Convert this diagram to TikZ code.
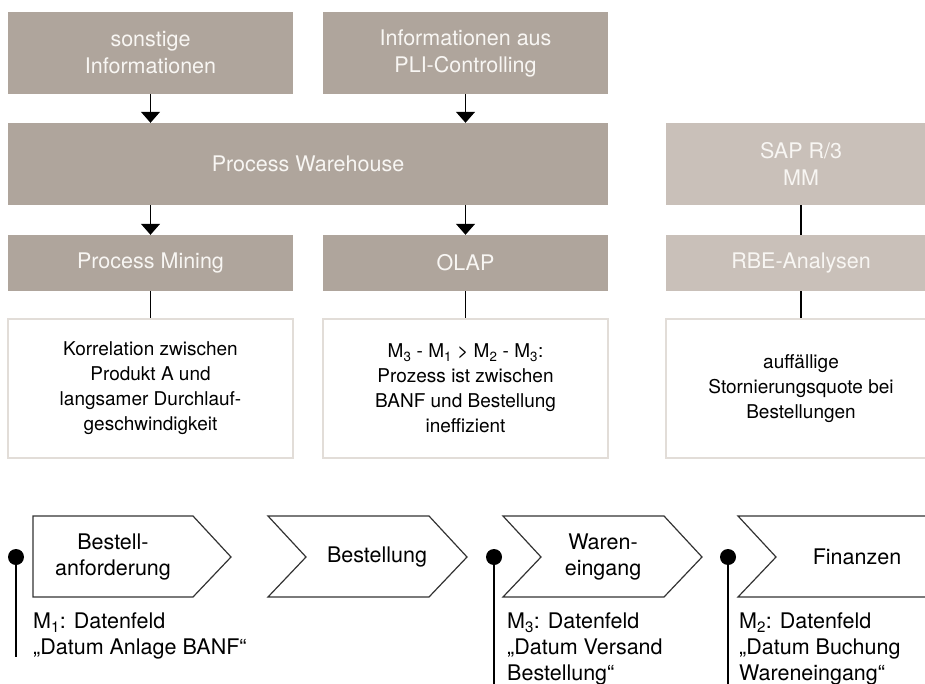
\documentclass[tikz,border=0pt]{standalone}
\usepackage{fontspec}
\setmainfont{TeX Gyre Heros}
\usetikzlibrary{positioning, arrows.meta}
\definecolor{boxtaupe}{HTML}{AFA59C}
\definecolor{lighttaupe}{HTML}{C9C0B9}
\definecolor{framegray}{HTML}{E2DDD8}
\definecolor{boxtext}{HTML}{F8F6F3}
\definecolor{edgegray}{HTML}{333333}

\begin{document}
\begin{tikzpicture}[x=1pt, y=-1pt,
  srcbox/.style={fill=boxtaupe, text=boxtext, minimum width=285pt, minimum height=82pt,
    align=center, inner sep=0pt, font=\fontsize{21.5}{27}\selectfont},
  toolbox/.style={srcbox, minimum height=56pt},
  resbox/.style={fill=white, draw=framegray, line width=2pt, text=black, minimum width=285pt,
    minimum height=139pt, align=center, inner sep=0pt, font=\fontsize{19}{25}\selectfont},
  flow/.style={-{Triangle[width=19pt, length=11pt]}, line width=1.3pt},
  link/.style={line width=1.3pt},
  chev/.style={draw=edgegray, line width=1.2pt},
  stage/.style={align=center, font=\fontsize{21.5}{26}\selectfont},
  mark dot/.style={circle, fill=black, minimum size=16pt, inner sep=0pt},
  fieldlabel/.style={anchor=north west, align=left, inner sep=0pt, font=\fontsize{21.5}{26}\selectfont}]
  \useasboundingbox (0,0) rectangle (925,684);
  % sources
  \node[srcbox] (sonst) at (150.5,53) {sonstige\\Informationen};
  \node[srcbox] (pli) at (465.5,53) {Informationen aus\\PLI-Controlling};
  \node[srcbox, minimum width=600pt] (pw) at (308,164) {Process Warehouse};
  \node[srcbox, fill=lighttaupe, minimum width=270pt] (sap) at (801,164) {SAP R/3\\MM};
  \draw[flow] (sonst.south) -- (sonst.south |- pw.north);
  \draw[flow] (pli.south) -- (pli.south |- pw.north);
  % analyses
  \node[toolbox] (mining) at (150.5,263) {Process Mining};
  \node[toolbox] (olap) at (465.5,263) {OLAP};
  \node[toolbox, fill=lighttaupe, minimum width=270pt] (rbe) at (801,263) {RBE-Analysen};
  \draw[flow] (mining.north |- pw.south) -- (mining.north);
  \draw[flow] (olap.north |- pw.south) -- (olap.north);
  \draw[link] (sap) -- (rbe);
  % findings
  \node[resbox] (korr) at (150.5,388.5) {Korrelation zwischen\\Produkt A und\\langsamer Durchlauf-\\geschwindigkeit};
  \node[resbox] (ineff) at (465.5,388.5) {M\textsubscript{3} - M\textsubscript{1} > M\textsubscript{2} - M\textsubscript{3}:\\Prozess ist zwischen\\BANF und Bestellung\\ineffizient};
  \node[resbox, minimum width=270pt] (storno) at (801,388.5) {auffällige\\Stornierungsquote bei\\Bestellungen};
  \draw[link] (mining) -- (korr);
  \draw[link] (olap) -- (ineff);
  \draw[link] (rbe) -- (storno);
  % process chain
  \draw[chev] (33,516) -- (193,516) -- (231,557) -- (193,597) -- (33,597) -- cycle;
  \draw[chev] (268,516) -- (429,516) -- (467,557) -- (429,597) -- (268,597) -- (306,557) -- cycle;
  \draw[chev] (503,516) -- (664,516) -- (702,557) -- (664,597) -- (503,597) -- (541,557) -- cycle;
  \draw[chev] (935,516) -- (738,516) -- (776,557) -- (738,597) -- (935,597);
  \node[stage] (banf) at (113,557) {Bestell-\\anforderung};
  \node[stage] (best) at (377,557) {Bestellung};
  \node[stage] (we) at (603,557) {Waren-\\eingang};
  \node[stage] (fin) at (857,557) {Finanzen};
  % measuring points
  \node[mark dot] (m1) at (16,557) {};
  \node[mark dot] (m3) at (494,557) {};
  \node[mark dot] (m2) at (728,557) {};
  \coordinate (m1end) at (16,657);
  \coordinate (m3end) at (494,690);
  \coordinate (m2end) at (728,690);
  \draw[link] (m1.center) -- (m1end);
  \draw[link] (m3.center) -- (m3end);
  \draw[link] (m2.center) -- (m2end);
  \node[fieldlabel] (l1) at (33,613) {M\textsubscript{1}: Datenfeld\\„Datum Anlage BANF“};
  \node[fieldlabel] (l3) at (507,613) {M\textsubscript{3}: Datenfeld\\„Datum Versand\\Bestellung“};
  \node[fieldlabel] (l2) at (739,613) {M\textsubscript{2}: Datenfeld\\„Datum Buchung\\Wareneingang“};
\end{tikzpicture}
\end{document}
